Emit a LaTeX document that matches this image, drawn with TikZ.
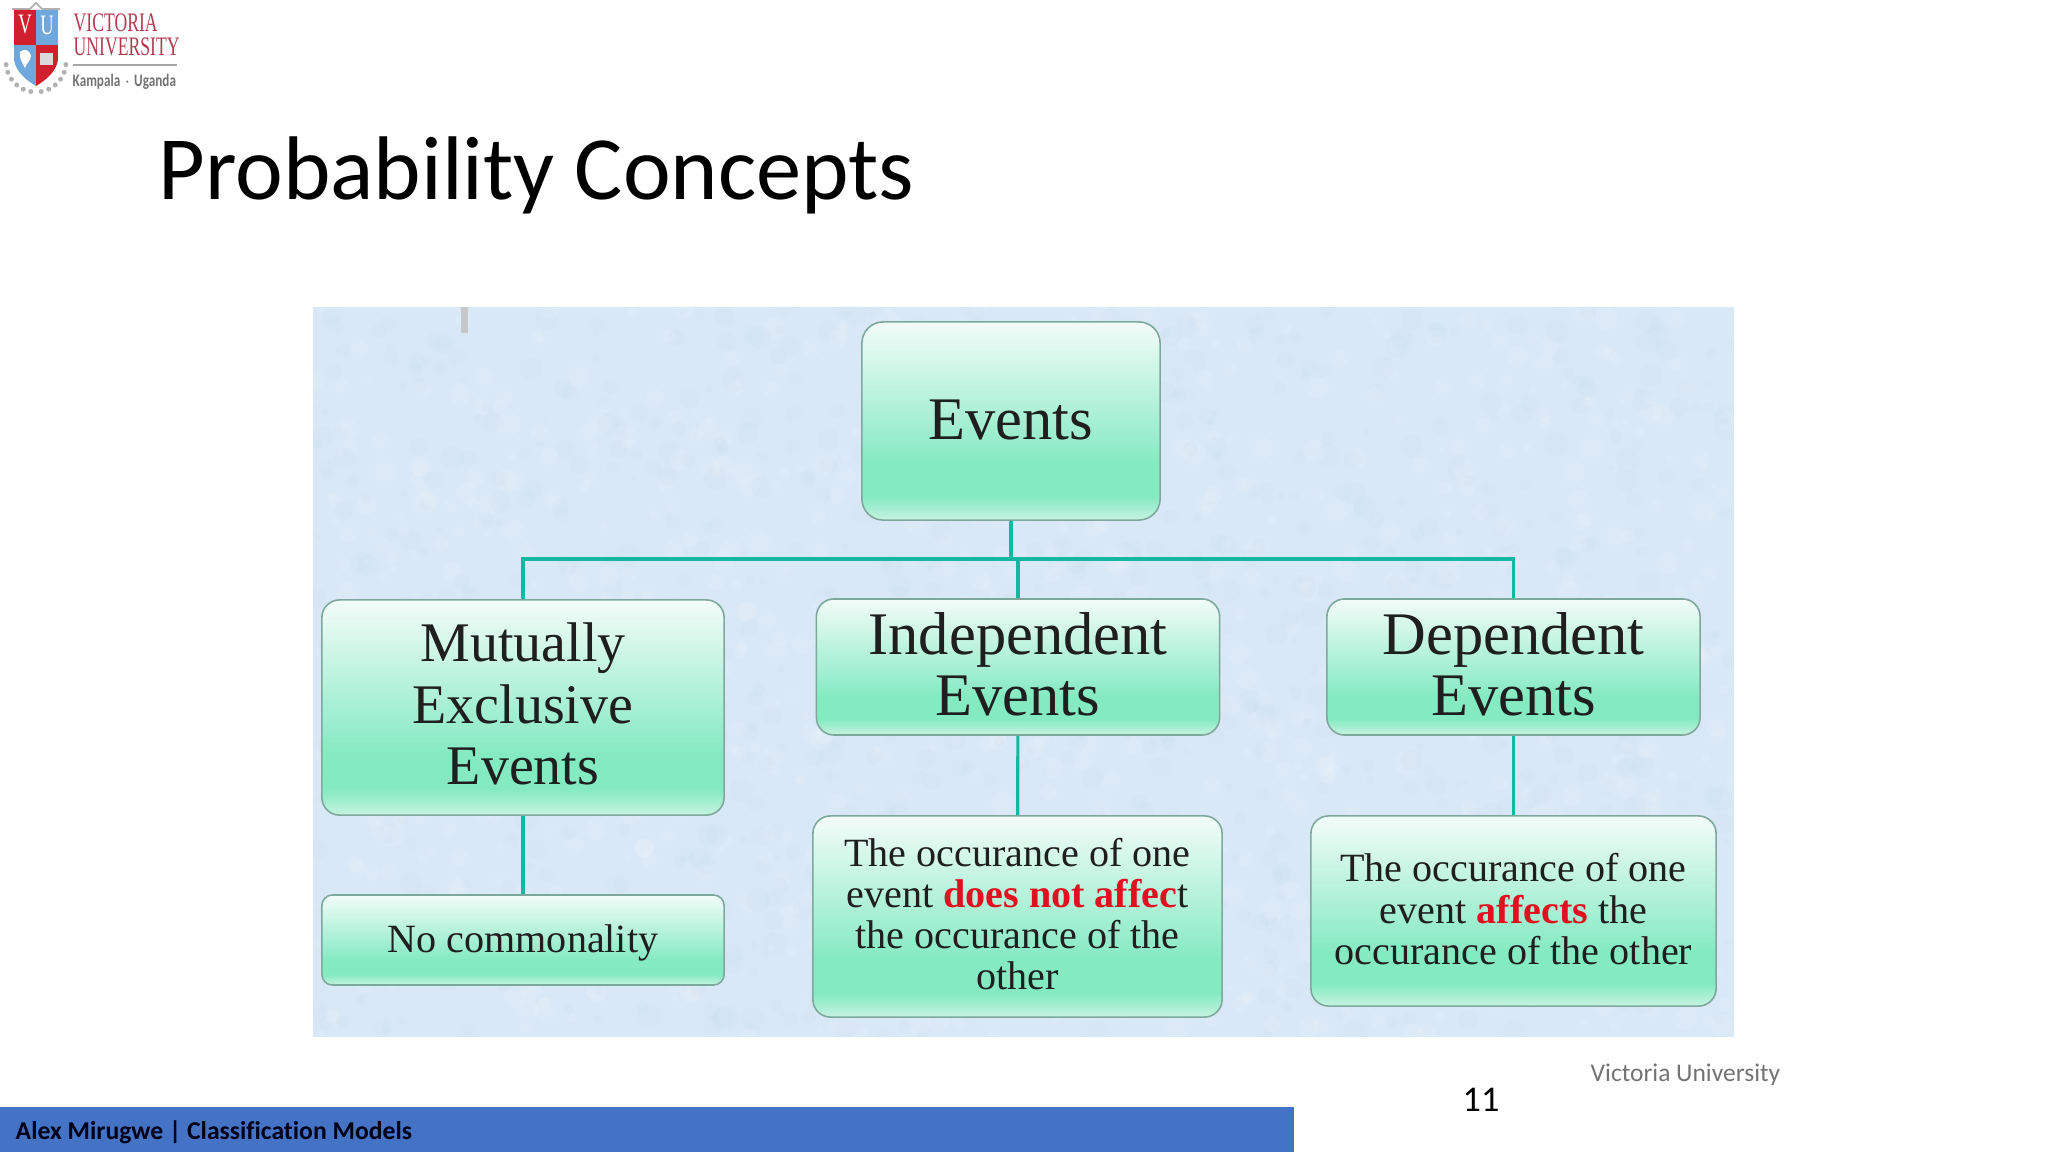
\documentclass[tikz,border=0pt]{standalone}
\usepackage{fontspec}
\setmainfont{Liberation Serif}
\newfontfamily\slidefont[Ligatures=NoCommon]{Carlito}
\newfontfamily\crestfont[FakeStretch=0.66]{Liberation Serif}
\newfontfamily\placefont[FakeStretch=0.75]{Carlito}
\definecolor{slidebar}{HTML}{4472C4}
\definecolor{paper}{HTML}{D9E8F7}
\definecolor{paperdark}{HTML}{B9CCE2}
\definecolor{linkteal}{HTML}{14B8A0}
\definecolor{boxedge}{HTML}{7FA89C}
\definecolor{notered}{HTML}{E01020}
\definecolor{crestred}{HTML}{D0202E}
\definecolor{crestblue}{HTML}{6FA8DC}
\definecolor{cresttext}{HTML}{B23A50}
\definecolor{mintlow}{HTML}{C6F3E0}
\definecolor{mintmid}{HTML}{84EAC2}
\definecolor{minttop}{HTML}{F3FCF9}
\pgfdeclareverticalshading{mintbox}{100bp}{
  color(0bp)=(mintlow);
  color(25bp)=(mintlow);
  color(31bp)=(mintmid);
  color(39bp)=(mintmid);
  color(75bp)=(minttop);
  color(100bp)=(minttop)}
\begin{document}
\begin{tikzpicture}[
  x=0.01cm,y=-0.01cm,
  mint/.style={draw=boxedge,line width=0.45pt,shade,shading=mintbox,align=center,
               inner sep=0pt,rounded corners=5pt,text=black!88},
  head/.style={mint,font=\fontsize{17.2}{17.4}\selectfont,text depth=1.6pt},
  note/.style={mint,font=\fontsize{11.4}{11.7}\selectfont},
  link/.style={draw=linkteal,line width=0.9pt}
]
  \useasboundingbox (0,0) rectangle (2048,1152);

  % picture panel
  \fill[paper] (313,307) rectangle (1734,1037);
  \begin{scope}
    \clip (313,307) rectangle (1734,1037);
    \pgfmathsetseed{11}
    \foreach \i in {1,...,900}{
      \pgfmathsetmacro{\blobx}{313+1421*rnd}
      \pgfmathsetmacro{\bloby}{307+730*rnd}
      \pgfmathsetmacro{\blobr}{0.03+0.09*rnd}
      \fill[white,opacity=0.10] (\blobx,\bloby) circle (\blobr cm);
      \pgfmathsetmacro{\blobx}{313+1421*rnd}
      \pgfmathsetmacro{\bloby}{307+730*rnd}
      \fill[paperdark,opacity=0.07] (\blobx,\bloby) circle (\blobr cm);
    }
  \end{scope}
  \fill[black!22] (461,307) rectangle (468,333);

  \node[head,minimum width=2.98cm,minimum height=1.98cm,rounded corners=6pt,text depth=0.8pt] (events)
    at (1011,421) {Events};
  \node[head,minimum width=4.02cm,minimum height=2.15cm,font=\fontsize{15.9}{17.4}\selectfont,text depth=2.2pt] (mutual)
    at (523,707.5) {Mutually\\Exclusive\\Events};
  \node[head,minimum width=4.03cm,minimum height=1.36cm] (independent) at (1018,667)
    {Independent\\Events};
  \node[head,minimum width=3.73cm,minimum height=1.36cm] (dependent) at (1513.5,667)
    {Dependent\\Events};
  \node[note,minimum width=4.02cm,minimum height=0.90cm,rounded corners=3pt,text depth=1pt] (nocommon)
    at (523,940) {No commonality};
  \node[note,minimum width=4.09cm,minimum height=2.01cm,text depth=1.4pt] (notaffect) at (1017.5,916.5)
    {The occurance of one\\event \textcolor{notered}{\textbf{does not affec}}t\\the occurance of the\\other};
  \node[note,minimum width=4.05cm,minimum height=1.90cm,text depth=1.2pt] (affect) at (1513.5,911)
    {The occurance of one\\event \textcolor{notered}{\textbf{affects}} the\\occurance of the other};

  \coordinate (bus) at (1011,559);
  \draw[link] (events) -- (bus);
  \draw[link] (mutual) |- (bus) -| (dependent);
  \draw[link] (independent) -- (independent |- bus);
  \draw[link] (mutual) -- (nocommon);
  \draw[link] (independent) -- (notaffect);
  \draw[link] (dependent) -- (affect);

  % slide furniture
  \node[anchor=base west,inner sep=0pt,font=\slidefont\fontsize{25.7}{28}\selectfont] (title)
    at (158,200) {Probability Concepts};
  \fill[slidebar] (0,1107) rectangle (1294,1152);
  \node[anchor=base west,inner sep=0pt,text=black!90!blue,font=\slidefont\bfseries\fontsize{7.3}{8}\selectfont] (author)
    at (15,1139) {Alex Mirugwe | Classification Models};
  \node[anchor=base west,inner sep=0pt,text=black!55,font=\slidefont\fontsize{7.25}{8}\selectfont] (uni)
    at (1590,1081) {Victoria University};
  \node[anchor=base west,inner sep=0pt,font=\slidefont\fontsize{10.3}{12}\selectfont] (pagenum)
    at (1462,1111) {11};

  % crest
  \foreach \a in {5,20,35,50,65,80,100,115,130,145,160,175}
    \fill[black!30] (36,62) ++(\a:30) circle (0.025cm);
  \draw[black!30,line width=0.5pt] (12,9) -- (30,9) -- (36,3) -- (42,9) -- (60,9);
  \begin{scope}
    \clip (14,10) -- (58,10) -- (58,60) .. controls (56,72) and (46,80) .. (36,86)
      .. controls (26,80) and (16,72) .. (14,60) -- cycle;
    \fill[crestred] (14,8) rectangle (36,45);
    \fill[crestblue] (36,8) rectangle (58,45);
    \fill[crestblue] (14,45) rectangle (36,90);
    \fill[crestred] (36,45) rectangle (58,90);
    \fill[white] (20,52) .. controls (24,48) and (30,50) .. (31,56)
      .. controls (30,62) and (27,62) .. (25,68) .. controls (22,62) and (19,58) .. (20,52) -- cycle;
    \fill[white!85!black] (40,53) rectangle (53,65);
  \end{scope}
  \node[text=white,inner sep=0pt,font=\crestfont\fontsize{8}{8}\selectfont] (crestv) at (25,25) {V};
  \node[text=white,inner sep=0pt,font=\crestfont\fontsize{8}{8}\selectfont] (crestu) at (47,25) {U};
  \node[anchor=base west,inner sep=0pt,text=cresttext,font=\crestfont\fontsize{7.6}{8}\selectfont] (crestname)
    at (73,32) {VICTORIA};
  \node[anchor=base west,inner sep=0pt,text=cresttext,font=\crestfont\fontsize{7.6}{8}\selectfont] (crestname2)
    at (73,56) {UNIVERSITY};
  \draw[black!35,line width=0.3pt] (73,65) -- (177,65);
  \node[anchor=base west,inner sep=0pt,text=black!55,font=\placefont\bfseries\fontsize{5}{6}\selectfont] (crestplace)
    at (72,87) {Kampala\,$\cdot$\,Uganda};
\end{tikzpicture}
\end{document}
